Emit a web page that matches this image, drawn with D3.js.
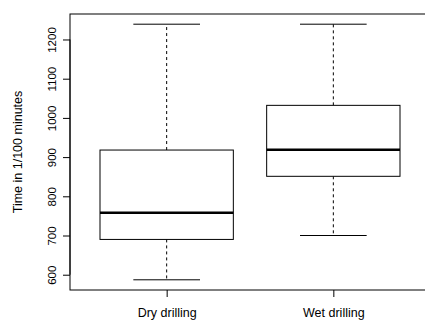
<!DOCTYPE html>
<html>
<head>
<meta charset="utf-8">
<script src="https://cdn.jsdelivr.net/npm/d3@7"></script>
<style>
body { margin: 0; background: #fff; }
svg text { font-family: "Liberation Sans", Arial, sans-serif; fill: #000; }
</style>
</head>
<body>
<div id="chart"></div>
<script>
// groups and five-number summaries (whisker low, Q1, median, Q3, whisker high)
var categories = ["Dry drilling", "Wet drilling"];
var whiskerLow  = [587, 700];
var q1          = [690, 851];
var median      = [758, 919];
var q3          = [918, 1032];
var whiskerHigh = [1239, 1239];
var yTicks = [600, 700, 800, 900, 1000, 1100, 1200];
var yTitle = "Time in 1/100 minutes";

var svg = d3.select("#chart").append("svg")
    .attr("width", 425)
    .attr("height", 320);

var margin = {top: 14, left: 70, bottom: 30},
    plotRight = 430,
    height = 320 - margin.bottom;

// R style: x positions 1..n, limits padded by 4%
var x = d3.scaleLinear().domain([0.42, 2.58]).range([margin.left, plotRight]);
var y = d3.scaleLinear().domain([561, 1265]).range([height, margin.top]);

var unit = x(2) - x(1);
var boxW = 0.8 * unit, capW = boxW / 2;

var data = categories.map(function(c, i) {
  return {name: c, pos: i + 1, lo: whiskerLow[i], q1: q1[i], med: median[i], q3: q3[i], hi: whiskerHigh[i]};
});

// y axis
var yAxis = svg.append("g")
    .attr("transform", "translate(" + margin.left + ",0)")
    .call(d3.axisLeft(y).tickValues(yTicks).tickSize(7).tickSizeOuter(0).tickFormat(d3.format("d")));
yAxis.select(".domain").attr("d", "M0," + y(600) + "V" + y(1200));
yAxis.selectAll(".tick text")
    .attr("transform", "rotate(-90)")
    .attr("x", 0).attr("y", -18).attr("dy", "0.35em")
    .style("text-anchor", "middle")
    .style("font-size", "11.5px");

svg.append("text")
    .attr("transform", "translate(22," + ((margin.top + height) / 2) + ") rotate(-90)")
    .style("text-anchor", "middle")
    .style("font-size", "12.5px")
    .text(yTitle);

// x axis
var xAxis = svg.append("g")
    .attr("transform", "translate(0," + height + ")")
    .call(d3.axisBottom(x).tickValues([1, 2]).tickSize(7).tickSizeOuter(0)
      .tickFormat(function(d) { return categories[d - 1]; }));
xAxis.select(".domain").remove();
xAxis.selectAll(".tick text").attr("y", 18).attr("dy", "0.71em").style("font-size", "12.5px");
xAxis.selectAll("text").style("font-family", "'Liberation Sans', Arial, sans-serif");
yAxis.selectAll("text").style("font-family", "'Liberation Sans', Arial, sans-serif");

// plot frame
svg.append("rect")
    .attr("x", margin.left).attr("y", margin.top)
    .attr("width", plotRight - margin.left).attr("height", height - margin.top)
    .attr("fill", "none").attr("stroke", "#000");

var g = svg.selectAll(".box").data(data).enter().append("g").attr("class", "box");

// whiskers
g.append("line")
    .attr("x1", function(d) { return x(d.pos); }).attr("x2", function(d) { return x(d.pos); })
    .attr("y1", function(d) { return y(d.q3); }).attr("y2", function(d) { return y(d.hi); })
    .attr("stroke", "#000").attr("stroke-dasharray", "3,3");
g.append("line")
    .attr("x1", function(d) { return x(d.pos); }).attr("x2", function(d) { return x(d.pos); })
    .attr("y1", function(d) { return y(d.q1); }).attr("y2", function(d) { return y(d.lo); })
    .attr("stroke", "#000").attr("stroke-dasharray", "3,3");

// caps
["lo", "hi"].forEach(function(k) {
  g.append("line")
      .attr("x1", function(d) { return x(d.pos) - capW / 2; })
      .attr("x2", function(d) { return x(d.pos) + capW / 2; })
      .attr("y1", function(d) { return y(d[k]); }).attr("y2", function(d) { return y(d[k]); })
      .attr("stroke", "#000");
});

// boxes
g.append("rect")
    .attr("x", function(d) { return x(d.pos) - boxW / 2; })
    .attr("y", function(d) { return y(d.q3); })
    .attr("width", boxW)
    .attr("height", function(d) { return y(d.q1) - y(d.q3); })
    .attr("fill", "#fff").attr("stroke", "#000");

// medians
g.append("line")
    .attr("x1", function(d) { return x(d.pos) - boxW / 2; })
    .attr("x2", function(d) { return x(d.pos) + boxW / 2; })
    .attr("y1", function(d) { return y(d.med); }).attr("y2", function(d) { return y(d.med); })
    .attr("stroke", "#000").attr("stroke-width", 2.5);
</script>
</body>
</html>
